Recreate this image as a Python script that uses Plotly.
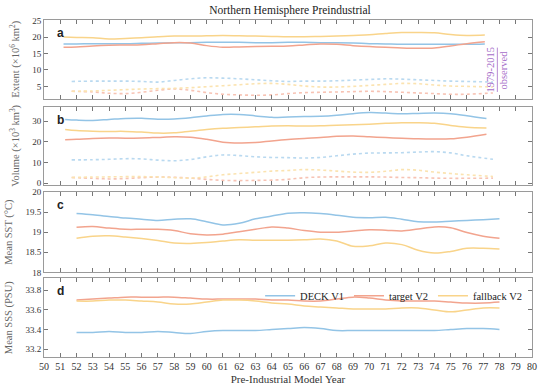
import plotly.graph_objects as go
from plotly.subplots import make_subplots

# ---------------- data ----------------
series_names = ["DECK V1", "target V2", "fallback V2"]

# panel a: sea-ice extent
years_a = [51.2] + list(range(52, 77)) + [77.1]
ext_deck = [17.9, 17.9, 18.0, 18.0, 18.0, 18.1, 18.2, 18.3, 18.3, 18.4, 18.4, 18.4, 18.3, 18.3,
            18.4, 18.4, 18.3, 18.3, 18.2, 18.0, 17.9, 17.8, 17.8, 17.8, 17.8, 17.8, 17.9]
ext_target = [16.9, 17.0, 17.3, 17.5, 17.6, 17.7, 18.0, 18.3, 18.2, 17.4, 16.9, 17.0, 17.1, 17.2,
              17.3, 17.6, 17.9, 17.8, 17.4, 17.1, 16.9, 16.7, 16.6, 16.7, 17.3, 18.0, 18.6]
ext_fallback = [20.0, 19.9, 19.8, 19.4, 19.6, 19.8, 20.1, 20.3, 20.3, 20.4, 20.5, 20.4, 20.3, 20.2,
                20.1, 20.1, 20.2, 20.3, 20.5, 20.7, 21.1, 21.4, 21.4, 21.3, 20.8, 20.5, 20.6]
years_a_obs = [51.7] + list(range(53, 77)) + [77.6]
ext_deck_obs = [6.5, 6.6, 6.6, 6.6, 6.5, 6.3, 6.8, 7.3, 7.6, 7.5, 7.3, 7.0, 6.7, 6.5, 6.6, 6.6,
                6.7, 6.9, 7.1, 7.3, 7.2, 7.0, 6.8, 6.6, 6.5, 6.3]
ext_target_obs = [3.5, 3.3, 2.9, 2.8, 3.2, 3.8, 4.2, 3.8, 3.1, 2.6, 2.4, 2.3, 2.4, 2.8, 3.1, 3.2,
                  3.3, 3.4, 3.5, 3.4, 3.2, 3.0, 2.8, 2.6, 2.6, 3.0]
ext_fallback_obs = [3.5, 3.6, 3.8, 4.0, 4.2, 4.3, 4.4, 4.6, 4.9, 5.2, 5.5, 5.8, 5.9, 5.6, 5.1, 4.8,
                    4.8, 5.0, 5.3, 5.6, 5.9, 5.8, 5.4, 5.1, 5.0, 4.8]

# panel b: sea-ice volume
years_b = [51.3] + list(range(52, 77)) + [77.2]
vol_deck = [30.8, 30.5, 30.3, 30.8, 31.3, 31.4, 30.9, 31.0, 31.6, 32.5, 33.2, 33.2, 32.5, 31.8,
            32.0, 32.2, 32.3, 32.8, 33.6, 34.1, 33.9, 33.5, 33.7, 33.9, 33.6, 32.6, 31.2]
vol_target = [21.0, 21.2, 21.6, 21.8, 21.7, 21.8, 22.1, 22.4, 22.2, 21.2, 19.8, 19.4, 19.6, 20.4,
              21.1, 21.6, 22.0, 22.6, 22.8, 22.4, 22.0, 21.7, 21.4, 21.3, 21.4, 22.2, 23.6]
vol_fallback = [25.9, 25.4, 25.1, 25.0, 25.0, 24.7, 24.2, 24.3, 25.1, 25.9, 26.5, 26.9, 27.2, 27.6,
                27.7, 27.6, 27.7, 28.0, 28.2, 28.5, 28.9, 29.2, 29.2, 28.9, 27.9, 27.0, 26.7]
years_b_obs = [51.7] + list(range(53, 77)) + [77.6]
vol_deck_obs = [11.2, 11.3, 11.5, 11.8, 11.7, 11.1, 10.8, 11.4, 12.7, 13.6, 13.3, 12.7, 12.4, 12.3,
                12.1, 12.4, 13.2, 14.0, 14.5, 14.6, 14.7, 15.0, 15.2, 14.6, 13.2, 11.5]
vol_target_obs = [2.7, 2.3, 2.0, 2.2, 2.6, 2.9, 2.8, 2.4, 1.8, 1.3, 1.2, 1.3, 1.4, 1.8, 2.6, 2.9,
                  3.0, 3.0, 3.0, 2.9, 2.7, 2.6, 2.4, 2.3, 2.3, 2.4]
vol_fallback_obs = [2.7, 2.9, 3.0, 3.1, 3.1, 3.0, 2.6, 2.4, 3.0, 4.0, 4.6, 5.2, 5.8, 6.1, 6.5, 6.3,
                    5.8, 5.3, 5.2, 5.7, 6.5, 6.2, 5.3, 4.6, 4.0, 3.2]

# panels c, d
years_cd = list(range(52, 79))
sst_deck = [19.46, 19.43, 19.39, 19.35, 19.32, 19.29, 19.32, 19.33, 19.26, 19.18, 19.22, 19.33, 19.40,
            19.47, 19.48, 19.46, 19.42, 19.37, 19.36, 19.37, 19.32, 19.26, 19.25, 19.27, 19.29, 19.31, 19.33]
sst_target = [19.12, 19.14, 19.10, 19.07, 19.07, 19.07, 19.04, 18.96, 18.93, 18.95, 19.01, 19.07, 19.13,
              19.10, 19.04, 19.00, 19.00, 19.03, 19.06, 19.05, 19.03, 19.08, 19.13, 19.11, 18.99, 18.90, 18.85]
sst_fallback = [18.85, 18.90, 18.91, 18.88, 18.84, 18.79, 18.73, 18.72, 18.74, 18.78, 18.81, 18.80, 18.80,
                18.80, 18.81, 18.83, 18.78, 18.65, 18.66, 18.73, 18.69, 18.55, 18.48, 18.52, 18.60, 18.60, 18.58]
sss_deck = [33.37, 33.37, 33.38, 33.37, 33.37, 33.38, 33.37, 33.36, 33.38, 33.39, 33.39, 33.39, 33.40,
            33.41, 33.42, 33.41, 33.39, 33.39, 33.39, 33.39, 33.39, 33.39, 33.39, 33.40, 33.41, 33.41, 33.40]
sss_target = [33.70, 33.71, 33.72, 33.73, 33.73, 33.73, 33.73, 33.72, 33.71, 33.71, 33.71, 33.71, 33.70,
              33.70, 33.69, 33.69, 33.71, 33.73, 33.72, 33.70, 33.69, 33.69, 33.69, 33.68, 33.67, 33.67, 33.68]
sss_fallback = [33.69, 33.69, 33.70, 33.70, 33.69, 33.68, 33.66, 33.66, 33.68, 33.70, 33.70, 33.69, 33.67,
                33.66, 33.64, 33.63, 33.62, 33.61, 33.61, 33.61, 33.62, 33.62, 33.60, 33.58, 33.60, 33.62, 33.62]

x_ticks = list(range(50, 81))
panel_letters = ["a", "b", "c", "d"]
y_titles = ["Extent (\u00d710<sup>6</sup> km<sup>2</sup>)", "Volume (\u00d710<sup>3</sup> km<sup>3</sup>)",
            "Mean SST (\u00b0C)", "Mean SSS (PSU)"]
obs_label = ["1979-2015", "observed"]

# ---------------- style ----------------
colors = ["#93c4e6", "#f2a48e", "#f9d48a"]
obs_colors = ["#b9d9f0", "#f7c3b4", "#fbe3b0"]
serif = "Liberation Serif"
grey = "#9a9a9a"
purple = "#a56cc8"

fig = make_subplots(rows=4, cols=1, shared_xaxes=False, vertical_spacing=0.02)

panels = [
    (1, years_a, [ext_deck, ext_target, ext_fallback], years_a_obs, [ext_deck_obs, ext_target_obs, ext_fallback_obs]),
    (2, years_b, [vol_deck, vol_target, vol_fallback], years_b_obs, [vol_deck_obs, vol_target_obs, vol_fallback_obs]),
    (3, years_cd, [sst_deck, sst_target, sst_fallback], None, None),
    (4, years_cd, [sss_deck, sss_target, sss_fallback], None, None),
]
for row, xs, ys_list, xo, yo_list in panels:
    if yo_list is not None:
        for i, yo in enumerate(yo_list):
            fig.add_trace(go.Scatter(x=xo, y=yo, mode="lines", line=dict(color=obs_colors[i], width=1.6, dash="dot", shape="spline"),
                                     showlegend=False, hoverinfo="skip"), row=row, col=1)
    for i, ys in enumerate(ys_list):
        fig.add_trace(go.Scatter(x=xs, y=ys, mode="lines", name=series_names[i],
                                 line=dict(color=colors[i], width=1.5, shape="spline"),
                                 showlegend=(row == 4)), row=row, col=1)

domains = [[0.767, 1.0], [0.510, 0.743], [0.251, 0.490], [0.0, 0.233]]
yranges = [[1.3, 25.2], [-1.0, 37.0], [18, 20], [33.12, 33.92]]
ytickvals = [[5, 10, 15, 20, 25], [0, 10, 20, 30], [18, 18.5, 19, 19.5, 20], [33.2, 33.4, 33.6, 33.8]]
yticktext = [None, None, ["18", "18.5", "19", "19.5", "20"], None]

for k in range(4):
    ax = "" if k == 0 else str(k + 1)
    fig.layout["xaxis" + ax].update(
        range=[50, 80], tickvals=x_ticks, ticks="inside", ticklen=4, tickcolor="#777",
        showline=True, linecolor=grey, linewidth=1, mirror="ticks", showgrid=False, zeroline=False,
        showticklabels=(k == 3), tickfont=dict(family=serif, size=10, color="#333"),
    )
    yd = dict(domain=domains[k], range=yranges[k], tickvals=ytickvals[k], ticks="inside", ticklen=4,
              tickcolor="#777", showline=True, linecolor=grey, linewidth=1, mirror="ticks",
              showgrid=False, zeroline=False, tickfont=dict(family=serif, size=9, color="#333"),
              title=dict(text=y_titles[k], font=dict(family=serif, size=10.5, color="#666"), standoff=10))
    if yticktext[k] is not None:
        yd["ticktext"] = yticktext[k]
    fig.layout["yaxis" + ax].update(**yd)
    fig.add_annotation(text="<b>" + panel_letters[k] + "</b>", xref="x" + ax + " domain", yref="y" + ax + " domain",
                       x=0.022, y=0.95, xanchor="left", yanchor="top", showarrow=False,
                       font=dict(family="Liberation Sans", size=12, color="#222"))

fig.layout.xaxis4.title = dict(text="Pre-Industrial Model Year", font=dict(family=serif, size=11, color="#333"), standoff=4)

# observed label in panel a
fig.add_annotation(text=obs_label[0], xref="x", yref="y", x=77.45, y=10.0, textangle=-90, showarrow=False,
                   font=dict(family=serif, size=10.5, color=purple))
fig.add_annotation(text=obs_label[1], xref="x", yref="y", x=78.25, y=10.0, textangle=-90, showarrow=False,
                   font=dict(family=serif, size=10.5, color=purple))
fig.add_shape(type="line", xref="x", yref="y", x0=77.87, x1=77.87, y0=3.3, y1=16.8,
              line=dict(color=purple, width=0.8))

fig.update_layout(
    width=542, height=389, margin=dict(l=44, r=5, t=20, b=26),
    paper_bgcolor="white", plot_bgcolor="white",
    title=dict(text="Northern Hemisphere Preindustrial", x=0.535, xanchor="center", y=0.985, yanchor="top",
               font=dict(family=serif, size=11.5, color="#222")),
    legend=dict(orientation="h", x=0.99, xanchor="right", y=0.225, yanchor="top",
                bgcolor="rgba(255,255,255,0)", font=dict(family=serif, size=10.5, color="#222"),
                itemwidth=30, tracegroupgap=0),
    showlegend=True,
)

fig.write_html("out.html")
